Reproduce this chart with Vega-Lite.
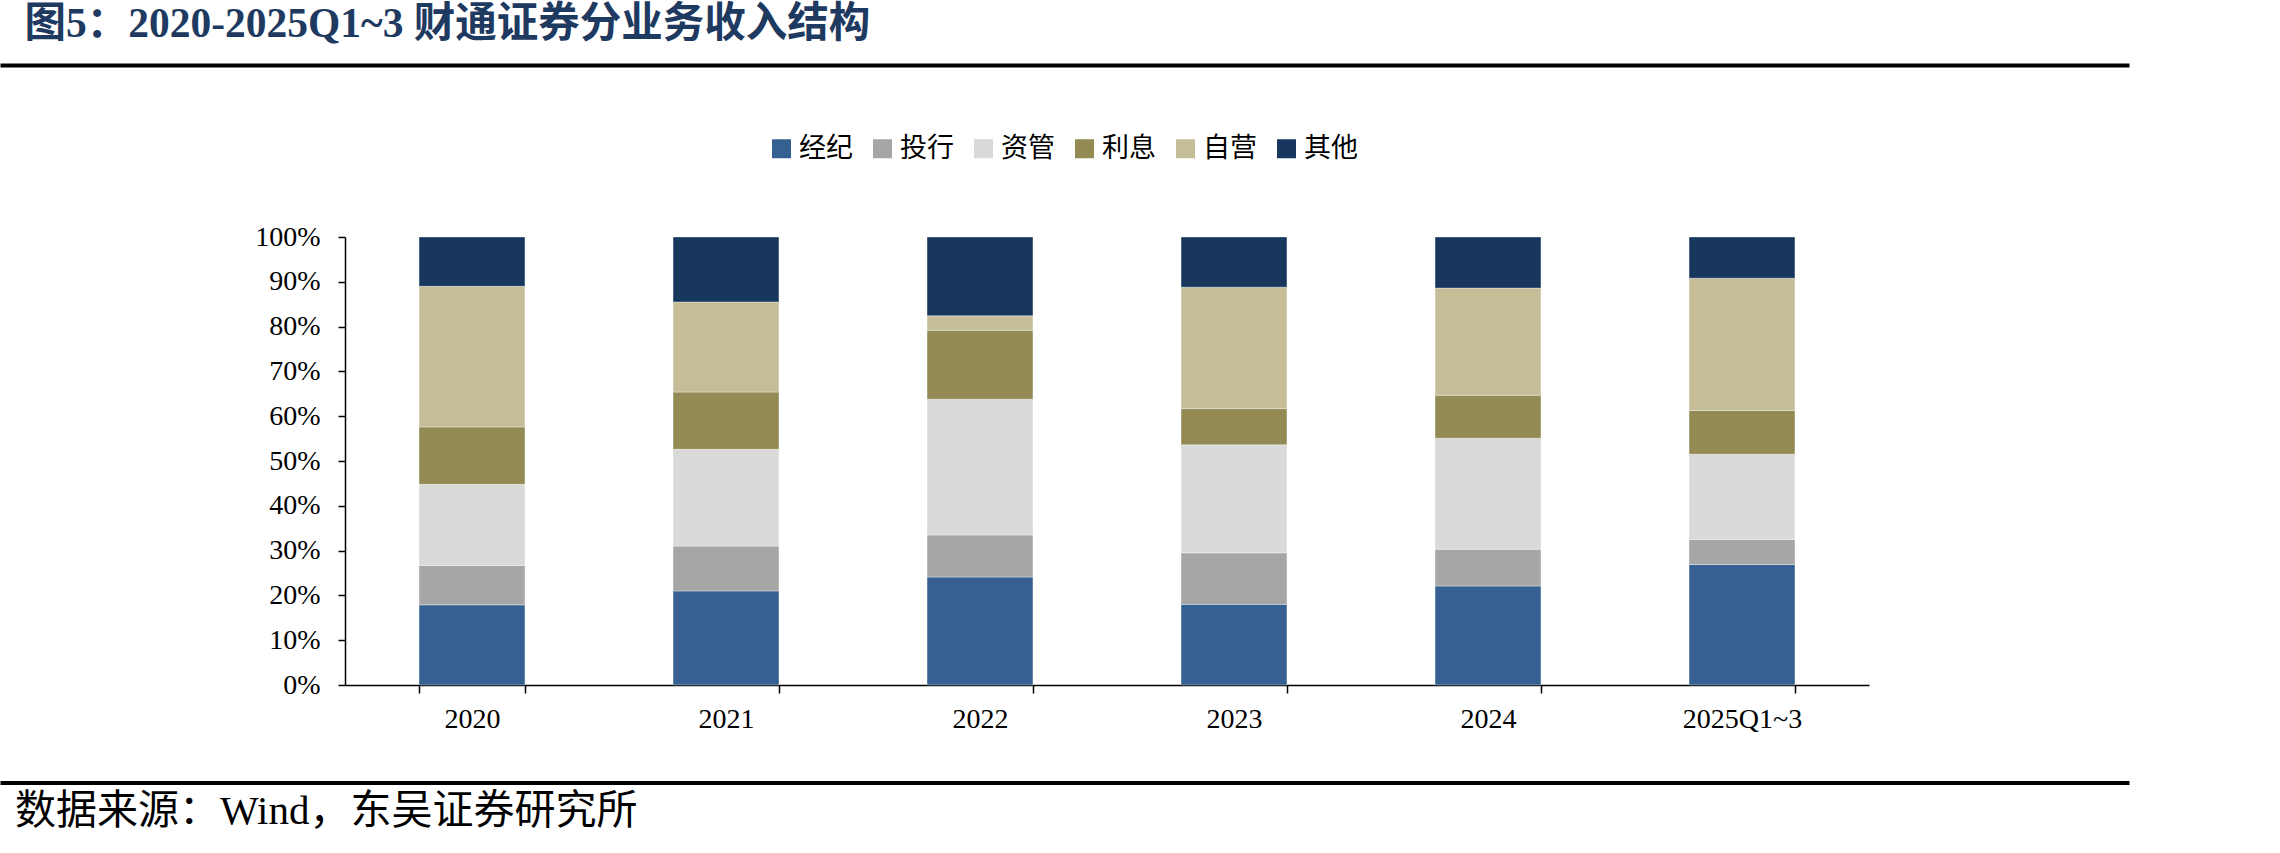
{
  "$schema": "https://vega.github.io/schema/vega-lite/v6.json",
  "padding": {"left": 0, "top": 3, "right": 0, "bottom": 0},
  "background": "white",
  "title": {
    "text": "图5：2020-2025Q1~3 财通证券分业务收入结构",
    "anchor": "start",
    "frame": "bounds",
    "font": "Liberation Serif, Noto Sans CJK SC",
    "fontSize": 41.5,
    "fontWeight": "bold",
    "color": "#1F3A60",
    "offset": 13,
    "dx": 24
  },
  "config": {
    "view": {"stroke": null},
    "concat": {"spacing": 0}
  },
  "spacing": 42.5,
  "vconcat": [
    {
      "spacing": 151,
      "vconcat": [
        {
          "width": 2126,
          "height": 1,
          "view": {"stroke": "#000000", "strokeWidth": 3},
          "data": {"values": [{"t": ""}]},
          "mark": {"type": "text"},
          "encoding": {"text": {"field": "t"}}
        },
        {
          "spacing": 0,
          "hconcat": [
            {
              "width": 243,
              "height": 1,
              "data": {"values": [{"t": ""}]},
              "mark": {"type": "text"},
              "encoding": {"text": {"field": "t"}}
            },
            {
              "width": 1524,
              "height": 448,
              "data": {
                "values": [
                  {"year": "2020", "type": "经纪", "k": 1, "v": 17.9},
                  {"year": "2020", "type": "投行", "k": 2, "v": 8.8},
                  {"year": "2020", "type": "资管", "k": 3, "v": 18.1},
                  {"year": "2020", "type": "利息", "k": 4, "v": 12.8},
                  {"year": "2020", "type": "自营", "k": 5, "v": 31.4},
                  {"year": "2020", "type": "其他", "k": 6, "v": 11.0},
                  {"year": "2021", "type": "经纪", "k": 1, "v": 21.0},
                  {"year": "2021", "type": "投行", "k": 2, "v": 10.0},
                  {"year": "2021", "type": "资管", "k": 3, "v": 21.6},
                  {"year": "2021", "type": "利息", "k": 4, "v": 12.8},
                  {"year": "2021", "type": "自营", "k": 5, "v": 20.1},
                  {"year": "2021", "type": "其他", "k": 6, "v": 14.5},
                  {"year": "2022", "type": "经纪", "k": 1, "v": 24.1},
                  {"year": "2022", "type": "投行", "k": 2, "v": 9.4},
                  {"year": "2022", "type": "资管", "k": 3, "v": 30.3},
                  {"year": "2022", "type": "利息", "k": 4, "v": 15.4},
                  {"year": "2022", "type": "自营", "k": 5, "v": 3.2},
                  {"year": "2022", "type": "其他", "k": 6, "v": 17.6},
                  {"year": "2023", "type": "经纪", "k": 1, "v": 18.0},
                  {"year": "2023", "type": "投行", "k": 2, "v": 11.5},
                  {"year": "2023", "type": "资管", "k": 3, "v": 24.1},
                  {"year": "2023", "type": "利息", "k": 4, "v": 8.1},
                  {"year": "2023", "type": "自营", "k": 5, "v": 27.1},
                  {"year": "2023", "type": "其他", "k": 6, "v": 11.2},
                  {"year": "2024", "type": "经纪", "k": 1, "v": 22.1},
                  {"year": "2024", "type": "投行", "k": 2, "v": 8.2},
                  {"year": "2024", "type": "资管", "k": 3, "v": 24.8},
                  {"year": "2024", "type": "利息", "k": 4, "v": 9.6},
                  {"year": "2024", "type": "自营", "k": 5, "v": 23.9},
                  {"year": "2024", "type": "其他", "k": 6, "v": 11.4},
                  {"year": "2025Q1~3", "type": "经纪", "k": 1, "v": 26.9},
                  {"year": "2025Q1~3", "type": "投行", "k": 2, "v": 5.6},
                  {"year": "2025Q1~3", "type": "资管", "k": 3, "v": 19.0},
                  {"year": "2025Q1~3", "type": "利息", "k": 4, "v": 9.8},
                  {"year": "2025Q1~3", "type": "自营", "k": 5, "v": 29.5},
                  {"year": "2025Q1~3", "type": "其他", "k": 6, "v": 9.2}
                ]
              },
              "mark": {"type": "bar", "stroke": "#ffffff", "strokeWidth": 0.6, "strokeOpacity": 0.6},
              "encoding": {
                "x": {
                  "field": "year",
                  "type": "nominal",
                  "sort": null,
                  "scale": {"paddingInner": 0.583, "paddingOuter": 0.2915},
                  "axis": {
                    "title": null,
                    "labelAngle": 0,
                    "labelFont": "Liberation Serif",
                    "labelFontSize": 28,
                    "labelColor": "#000000",
                    "labelPadding": 12,
                    "tickBand": "extent",
                    "tickSize": 8,
                    "tickColor": "#000000",
                    "tickWidth": 1.5,
                    "domainColor": "#000000",
                    "domainWidth": 1.5,
                    "grid": false
                  }
                },
                "y": {
                  "field": "v",
                  "type": "quantitative",
                  "stack": "zero",
                  "scale": {"domain": [0, 100], "nice": false},
                  "axis": {
                    "title": null,
                    "values": [0, 10, 20, 30, 40, 50, 60, 70, 80, 90, 100],
                    "labelExpr": "datum.value + '%'",
                    "labelFont": "Liberation Serif",
                    "labelFontSize": 28,
                    "labelColor": "#000000",
                    "labelPadding": 18,
                    "tickSize": 7,
                    "tickColor": "#000000",
                    "tickWidth": 1.5,
                    "domainColor": "#000000",
                    "domainWidth": 1.5,
                    "grid": false,
                    "minExtent": 100,
                    "maxExtent": 100
                  }
                },
                "color": {
                  "field": "type",
                  "type": "nominal",
                  "scale": {
                    "domain": ["经纪", "投行", "资管", "利息", "自营", "其他"],
                    "range": ["#376092", "#A6A6A6", "#D9D9D9", "#948A54", "#C4BD97", "#17375E"]
                  },
                  "legend": {
                    "title": null,
                    "orient": "none",
                    "direction": "horizontal",
                    "legendX": 766,
                    "legendY": 70,
                    "padding": 0,
                    "symbolType": "square",
                    "symbolSize": 361,
                    "symbolStrokeWidth": 0,
                    "symbolOpacity": 1,
                    "labelFont": "Noto Sans CJK SC",
                    "labelFontSize": 27,
                    "labelColor": "#000000",
                    "labelOffset": 4,
                    "columnPadding": 16
                  }
                },
                "order": {"field": "k", "type": "quantitative"}
              }
            }
          ]
        }
      ]
    },
    {
      "width": 2126,
      "height": 1,
      "view": {"stroke": "#000000", "strokeWidth": 3},
      "data": {"values": [{"t": ""}]},
      "mark": {"type": "text"},
      "encoding": {"text": {"field": "t"}},
      "title": {
        "text": "数据来源：Wind，东吴证券研究所",
        "orient": "bottom",
        "anchor": "start",
        "frame": "group",
        "font": "Liberation Serif, Noto Sans CJK SC",
        "fontSize": 41,
        "fontWeight": "normal",
        "color": "#000000",
        "offset": 4,
        "dx": 13
      }
    }
  ]
}
